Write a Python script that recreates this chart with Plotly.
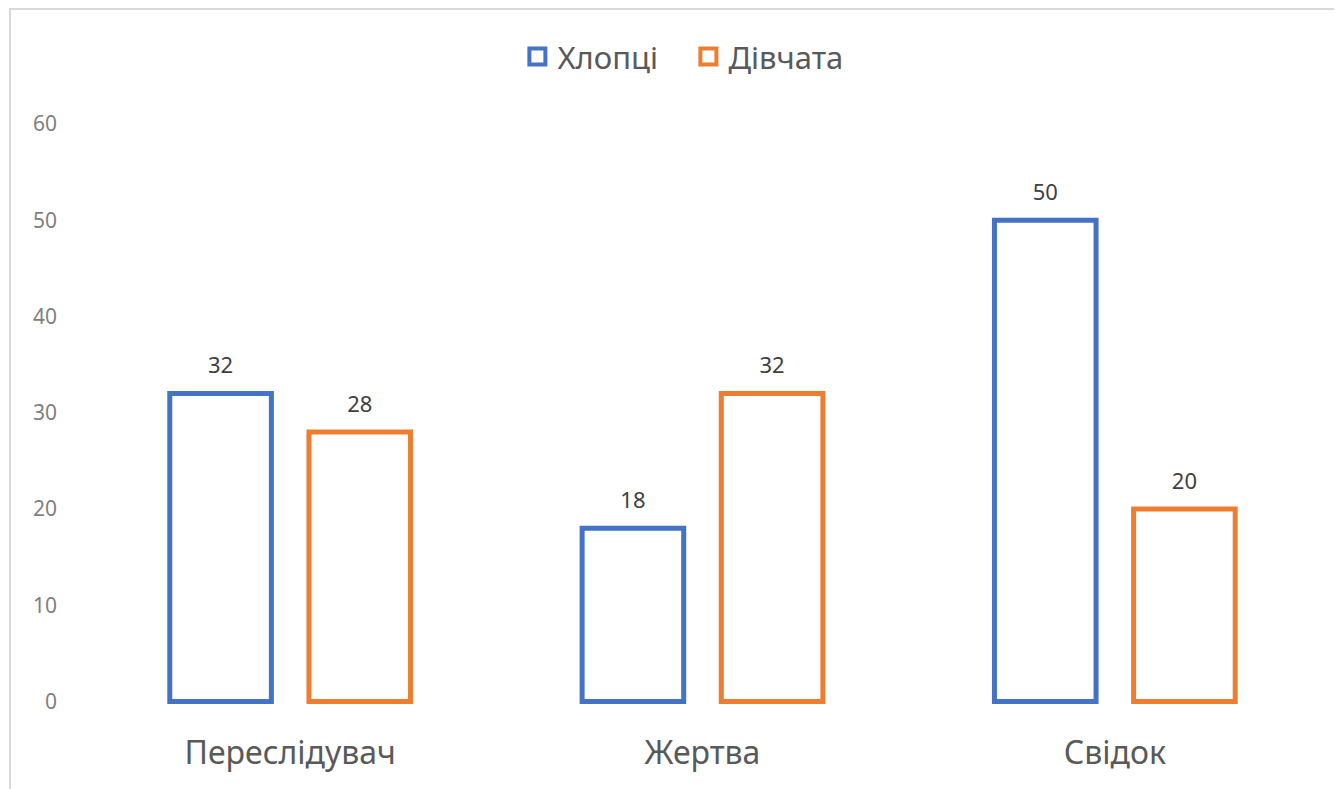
import plotly.graph_objects as go

categories = ["Переслідувач", "Жертва", "Свідок"]
boys = [32, 18, 50]
girls = [28, 32, 20]
series_names = ["Хлопці", "Дівчата"]
colors = ["#4472C4", "#ED7D31"]
y_ticks = [0, 10, 20, 30, 40, 50, 60]

FONT = "Segoe UI, Noto Sans, sans-serif"
GAP = 0.325

fig = go.Figure()
for i, (name, vals, col) in enumerate(zip(series_names, [boys, girls], colors)):
    fig.add_trace(go.Bar(
        x=categories, y=vals, name=name, legendgroup=name, showlegend=False,
        marker=dict(color="white", line=dict(color=col, width=5)),
        offsetgroup=str(i),
    ))
for i, vals in enumerate([boys, girls]):
    fig.add_trace(go.Scatter(
        x=categories, y=vals, mode="markers+text",
        marker=dict(size=22, opacity=0),
        text=[str(v) for v in vals], textposition="top center",
        textfont=dict(size=22, color="#404040", family=FONT),
        showlegend=False, hoverinfo="skip", cliponaxis=False,
        offsetgroup=str(i),
    ))
# legend entries (square outline symbols like the reference)
for name, col in zip(series_names, colors):
    fig.add_trace(go.Scatter(
        x=[None], y=[None], mode="markers", name=name, legendgroup=name,
        marker=dict(symbol="square-open", size=16, color=col,
                    line=dict(color=col, width=4)),
        hoverinfo="skip",
    ))

fig.update_layout(
    width=1342, height=789,
    paper_bgcolor="white", plot_bgcolor="white",
    margin=dict(l=76, r=29, t=116, b=86, autoexpand=False),
    barmode="group", bargap=GAP, bargroupgap=0.27,
    scattermode="group", scattergap=GAP,
    font=dict(family=FONT, color="#595959"),
    showlegend=True,
    legend=dict(orientation="h", x=0.507, xanchor="center", xref="container",
                y=0.938, yref="container", yanchor="middle",
                font=dict(size=31, color="#595959", family=FONT),
                itemwidth=30, itemsizing="trace", traceorder="normal",
                entrywidth=126, entrywidthmode="pixels"),
    xaxis=dict(showgrid=False, showline=False, zeroline=False, ticks="",
               tickfont=dict(size=32, color="#595959", family=FONT),
               ticklabelstandoff=20),
    yaxis=dict(range=[-1, 60], tickvals=y_ticks, showgrid=False, showline=False,
               zeroline=False, ticks="",
               tickfont=dict(size=21, color="#7f7f7f", family=FONT),
               ticklabelstandoff=26),
    shapes=[dict(type="rect", xref="paper", yref="paper",
                 x0=-0.0598, x1=1.03, y0=-0.16, y1=1.196,
                 line=dict(color="#d9d9d9", width=2), fillcolor="rgba(0,0,0,0)",
                 layer="below")],
)

fig.write_html("out.html")
